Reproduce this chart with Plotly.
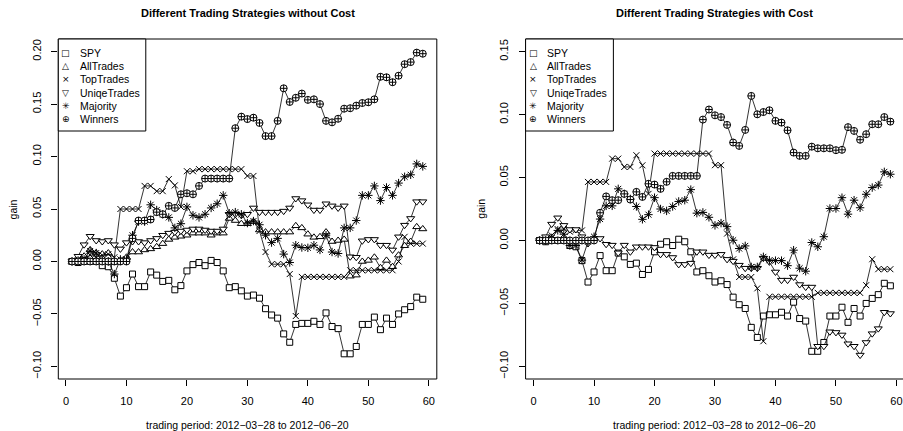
import plotly.graph_objects as go

# ---------------- data ----------------
periods = list(range(1, 60))

spy = [0, -0.001, 0, 0, 0, -0.004, -0.005, -0.016, -0.033, -0.025, -0.012, -0.024, -0.024, -0.010,
       -0.013, -0.019, -0.018, -0.027, -0.023, -0.009, -0.003, -0.001, -0.004, 0.001, -0.001, -0.009,
       -0.025, -0.024, -0.028, -0.033, -0.032, -0.035, -0.045, -0.051, -0.054, -0.069, -0.077, -0.060,
       -0.059, -0.059, -0.057, -0.060, -0.049, -0.062, -0.064, -0.088, -0.088, -0.081, -0.060, -0.060,
       -0.053, -0.065, -0.054, -0.060, -0.050, -0.046, -0.043, -0.034, -0.036]

# without cost
all_nc = [0, 0.002, 0.005, 0.011, 0.008, 0.007, 0.008, -0.001, 0.001, 0.004, 0.009, 0.009, 0.011, 0.012,
          0.014, 0.017, 0.021, 0.023, 0.024, 0.025, 0.027, 0.027, 0.027, 0.025, 0.027, 0.027, 0.041,
          0.039, 0.036, 0.036, 0.038, 0.030, 0.028, 0.028, 0.028, 0.028, 0.028, 0.034, 0.032, 0.026,
          0.023, 0.0235, 0.028, 0.019, 0.020, 0.021, -0.014, -0.013, 0.000, 0.001, 0.004, -0.006, 0.001,
          -0.005, 0.006, 0.015, 0.019, 0.033, 0.031]
top_nc = [0, 0.001, 0.003, 0.006, 0.004, 0.006, 0.007, 0.004, 0.050, 0.050, 0.050, 0.050, 0.072, 0.072,
          0.067, 0.067, 0.0785, 0.0725, 0.052, 0.086, 0.086, 0.088, 0.088, 0.088, 0.088, 0.088, 0.088,
          0.088, 0.088, 0.0815, 0.0815, 0.029, 0.009, -0.0026, -0.0026, -0.0026, -0.012, -0.052, -0.0147,
          -0.0147, -0.0147, -0.0147, -0.0147, -0.0147, -0.0147, -0.0147, -0.0084, -0.0084, -0.0084,
          -0.0084, -0.0084, -0.0084, -0.0084, -0.0084, 0.000, 0.0235, 0.017, 0.017, 0.017]
uniq_nc = [0, 0.005, 0.016, 0.024, 0.020, 0.019, 0.020, 0.016, 0.012, 0.018, 0.019, 0.019, 0.018, 0.020,
           0.022, 0.025, 0.027, 0.028, 0.029, 0.030, 0.031, 0.031, 0.030, 0.029, 0.029, 0.031, 0.045,
           0.045, 0.044, 0.045, 0.051, 0.047, 0.047, 0.047, 0.047, 0.048, 0.051, 0.060, 0.058, 0.054,
           0.049, 0.049, 0.055, 0.053, 0.051, 0.053, 0.0045, 0.004, 0.0197, 0.021, 0.021, 0.0155, 0.0155,
           0.011, 0.0235, 0.0346, 0.041, 0.057, 0.057]
maj_nc = [0, 0.001, 0.002, 0.010, 0.008, 0.001, 0, -0.012, 0.002, 0.002, 0.025, 0.038, 0.038, 0.054,
          0.049, 0.045, 0.042, 0.032, 0.036, 0.052, 0.044, 0.042, 0.045, 0.051, 0.055, 0.063, 0.046,
          0.047, 0.045, 0.0366, 0.0385, 0.035, 0.025, 0.018, 0.022, 0.007, -0.001, 0.0155, 0.0133, 0.013,
          0.0155, 0.011, 0.025, 0.009, 0.0076, 0.032, 0.032, 0.039, 0.063, 0.063, 0.072, 0.058, 0.0705,
          0.063, 0.0747, 0.0807, 0.0826, 0.093, 0.0906]
win_nc = [0, 0, 0, 0, 0, 0, 0, 0, 0, 0, 0.022, 0.039, 0.039, 0.040, 0.047, 0.045, 0.053, 0.051, 0.064,
          0.065, 0.064, 0.072, 0.079, 0.079, 0.079, 0.079, 0.079, 0.127, 0.138, 0.1357, 0.137, 0.132,
          0.1195, 0.1195, 0.134, 0.165, 0.152, 0.156, 0.160, 0.154, 0.1545, 0.150, 0.134, 0.1326, 0.136,
          0.1456, 0.146, 0.1485, 0.151, 0.1517, 0.1545, 0.176, 0.1755, 0.1708, 0.177, 0.188, 0.190,
          0.199, 0.198]

# with cost (AllTrades falls below the fixed y range and is clipped away)
all_c = [-0.13, -0.14, -0.15, -0.15, -0.16, -0.17, -0.18, -0.19, -0.20, -0.20, -0.21, -0.22, -0.22,
         -0.23, -0.24, -0.25, -0.25, -0.26, -0.27, -0.28, -0.28, -0.29, -0.30, -0.30, -0.31, -0.32,
         -0.33, -0.33, -0.34, -0.35, -0.35, -0.36, -0.37, -0.38, -0.38, -0.39, -0.40, -0.40, -0.41,
         -0.42, -0.43, -0.43, -0.44, -0.45, -0.45, -0.46, -0.47, -0.48, -0.48, -0.49, -0.50, -0.50,
         -0.51, -0.52, -0.53, -0.53, -0.54, -0.55, -0.55]
top_c = [0, 0.002, 0.004, 0.009, 0.009, 0.007, 0.008, 0.008, 0.0465, 0.0465, 0.0465, 0.0465, 0.065,
         0.065, 0.0584, 0.0584, 0.0677, 0.0597, 0.037, 0.069, 0.069, 0.069, 0.069, 0.069, 0.069, 0.069,
         0.069, 0.069, 0.069, 0.0598, 0.0598, 0.0055, -0.015, -0.029, -0.029, -0.029, -0.038, -0.080,
         -0.0447, -0.0447, -0.0447, -0.0447, -0.0447, -0.0447, -0.0447, -0.0447, -0.0416, -0.0416,
         -0.0416, -0.0416, -0.0416, -0.0416, -0.0416, -0.0416, -0.0355, -0.0149, -0.0228, -0.0228,
         -0.0228]
uniq_c = [0, 0.003, 0.013, 0.018, 0.012, 0.0087, 0.0087, 0.003, -0.0024, 0.000, 0.0016, -0.003, -0.0037,
          -0.0098, -0.0037, -0.009, -0.005, -0.005, -0.005, -0.0055, -0.011, -0.011, -0.0135, -0.019,
          -0.019, -0.018, -0.009, -0.009, -0.0116, -0.0116, -0.011, -0.015, -0.0164, -0.0196, -0.022,
          -0.022, -0.022, -0.014, -0.017, -0.025, -0.0315, -0.0315, -0.029, -0.035, -0.037, -0.037,
          -0.084, -0.084, -0.0725, -0.073, -0.075, -0.082, -0.084, -0.091, -0.081, -0.074, -0.070,
          -0.057, -0.058]
maj_c = [0, 0, 0.002, 0.008, 0.005, -0.004, -0.004, -0.0156, -0.001, 0.003, 0.017, 0.0275, 0.0275,
         0.041, 0.037, 0.033, 0.027, 0.0168, 0.0205, 0.034, 0.025, 0.0235, 0.027, 0.031, 0.032, 0.0404,
         0.0217, 0.0223, 0.0184, 0.012, 0.0138, 0.011, 0.0002, -0.0064, -0.0043, -0.021, -0.021, -0.013,
         -0.0157, -0.016, -0.016, -0.020, -0.0077, -0.022, -0.0244, -0.0016, -0.005, 0.003, 0.0254,
         0.0254, 0.034, 0.0209, 0.032, 0.026, 0.0367, 0.042, 0.044, 0.0545, 0.0526]
win_c = [0, 0, 0, 0, 0, 0, 0, 0, 0, 0, 0.022, 0.035, 0.032, 0.032, 0.037, 0.0325, 0.0386, 0.0346, 0.045,
         0.0444, 0.041, 0.0466, 0.0513, 0.0513, 0.0513, 0.0513, 0.0513, 0.096, 0.104, 0.0994, 0.098,
         0.0918, 0.0778, 0.0751, 0.0878, 0.1148, 0.1002, 0.102, 0.1034, 0.095, 0.0936, 0.0875, 0.0698,
         0.0672, 0.0672, 0.0745, 0.0732, 0.0732, 0.0732, 0.0717, 0.072, 0.090, 0.087, 0.080, 0.0844,
         0.0923, 0.0923, 0.098, 0.0944]

series_names = ["SPY", "AllTrades", "TopTrades", "UniqeTrades", "Majority", "Winners"]
panel_titles = ["Different Trading Strategies without Cost", "Different Trading Strategies with Cost"]
xlabel = "trading period: 2012\u221203\u221228 to 2012\u221206\u221220"
ylabel = "gain"
left_series = [spy, all_nc, top_nc, uniq_nc, maj_nc, win_nc]
right_series = [spy, all_c, top_c, uniq_c, maj_c, win_c]

# ---------------- styling ----------------
W, H = 903, 431
ML, MR, MT, MB = 58, 0, 39, 52
PW, PH = W - ML - MR, H - MT - MB


def px(xpix):
    return (xpix - ML) / PW


def py(ypix):
    return (H - MB - ypix) / PH


# symbol, size, fill (white fill hides the joining line under the point like R's type="b")
symbols = ["square", "triangle-up", "x-thin-open", "triangle-down", "asterisk-open", "circle-cross"]
sizes = [6, 7, 6, 7, 7, 7]
fills = ["white", "white", "black", "white", "black", "white"]
glyphs = ["\u25a1", "\u25b3", "\u00d7", "\u25bd", "\u2733", "\u2295"]
FONT = "Liberation Sans, Arial, Helvetica, sans-serif"

fig = go.Figure()
for k, (xa, ya, data) in enumerate([("x", "y", left_series), ("x2", "y2", right_series)]):
    for name, vals, sym, sz, fc in zip(series_names, data, symbols, sizes, fills):
        fig.add_trace(go.Scatter(
            x=periods, y=vals, xaxis=xa, yaxis=ya, name=name, mode="lines+markers",
            line=dict(color="black", width=0.8),
            marker=dict(symbol=sym, size=sz, color=fc, line=dict(width=1, color="black")),
            showlegend=False, cliponaxis=True))

left_dom = [0, px(437.7)]
right_dom = [px(526.7), 1]
axis_common = dict(showgrid=False, zeroline=False, showline=False, ticks="outside", ticklen=6,
                   tickwidth=1, tickcolor="black", ticklabeloverflow="allow",
                   tickfont=dict(family=FONT, size=11, color="black"))
fig.update_layout(
    width=W, height=H, margin=dict(l=ML, r=MR, t=MT, b=MB),
    paper_bgcolor="white", plot_bgcolor="white", showlegend=False,
    xaxis=dict(domain=left_dom, range=[-1.32, 61.32], tickvals=[0, 10, 20, 30, 40, 50, 60],
               ticklabelstandoff=6, anchor="y", **axis_common),
    yaxis=dict(domain=[0, 1], range=[-0.112, 0.212], tickvals=[-0.10, -0.05, 0, 0.05, 0.10, 0.15, 0.20],
               ticktext=["\u22120.10", "\u22120.05", "0.00", "0.05", "0.10", "0.15", "0.20"],
               tickangle=-90, ticklabelstandoff=6, anchor="x", **axis_common),
    xaxis2=dict(domain=right_dom, range=[-1.32, -1.32 + (W - 526.7) / 6.0616],
                tickvals=[0, 10, 20, 30, 40, 50, 60], ticklabelstandoff=6, anchor="y2", **axis_common),
    yaxis2=dict(domain=[0, 1], range=[-0.11, 0.16], tickvals=[-0.10, -0.05, 0, 0.05, 0.10, 0.15],
                ticktext=["\u22120.10", "\u22120.05", "0.00", "0.05", "0.10", "0.15"],
                tickangle=-90, ticklabelstandoff=6, anchor="x2", **axis_common),
)

shapes = []
annotations = []
panels = [(58.3, 437.7, 146.0), (526.7, 906.1, 614.7)]
for (bx0, bx1, lgx1), title in zip(panels, panel_titles):
    # plot box
    shapes.append(dict(type="rect", xref="paper", yref="paper", x0=px(bx0), x1=px(bx1),
                       y0=py(379), y1=py(39), line=dict(color="black", width=1)))
    cx = (bx0 + bx1) / 2
    annotations.append(dict(text="<b>%s</b>" % title, x=px(cx), y=py(13), xref="paper", yref="paper",
                            showarrow=False, xanchor="center", yanchor="middle",
                            font=dict(family=FONT, size=11, color="black")))
    annotations.append(dict(text=xlabel, x=px(cx), y=py(425), xref="paper", yref="paper",
                            showarrow=False, xanchor="center", yanchor="middle",
                            font=dict(family=FONT, size=10.5, color="black")))
    annotations.append(dict(text=ylabel, x=px(bx0 - 45), y=py(209), xref="paper", yref="paper",
                            showarrow=False, xanchor="center", yanchor="middle", textangle=-90,
                            font=dict(family=FONT, size=10.5, color="black")))
    # legend
    shapes.append(dict(type="rect", xref="paper", yref="paper", x0=px(bx0), x1=px(lgx1),
                       y0=py(131), y1=py(39), line=dict(color="black", width=1), fillcolor="white",
                       layer="above"))
    for j, (name, g) in enumerate(zip(series_names, glyphs)):
        yy = 52.7 + j * 13.3
        annotations.append(dict(text=g, x=px(bx0 + 7.6), y=py(yy), xref="paper", yref="paper",
                                showarrow=False, xanchor="center", yanchor="middle",
                                font=dict(family="DejaVu Sans", size=9, color="black")))
        annotations.append(dict(text=name, x=px(bx0 + 19.5), y=py(yy), xref="paper", yref="paper",
                                showarrow=False, xanchor="left", yanchor="middle",
                                font=dict(family=FONT, size=10.5, color="black")))

fig.update_layout(shapes=shapes, annotations=annotations)
fig.write_html("out.html")
